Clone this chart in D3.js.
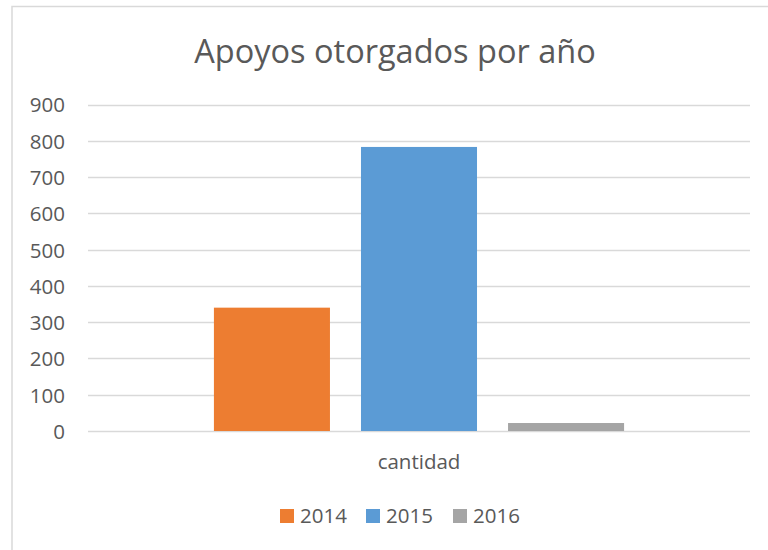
<!DOCTYPE html>
<html><head><meta charset="utf-8">
<script src="https://cdn.jsdelivr.net/npm/d3@7"></script>
<style>body{margin:0;background:#fff}svg{display:block}</style>
</head><body>
<script>
const categories = ["cantidad"];
const seriesNames = ["2014", "2015", "2016"];
const values2014 = [340];
const values2015 = [783];
const values2016 = [22];
const yTicks = [0, 100, 200, 300, 400, 500, 600, 700, 800, 900];
const colors = ["#ED7D31", "#5B9BD5", "#A5A5A5"];
const seriesValues = [values2014, values2015, values2016];

const W = 768, H = 550;
const font = "'Open Sans', sans-serif";
const svg = d3.select("body").append("svg").attr("width", W).attr("height", H);
svg.append("rect").attr("width", W).attr("height", H).attr("fill", "#fff");
svg.append("rect").attr("x", 12).attr("y", 6.5).attr("width", 800).attr("height", 600)
  .attr("fill", "none").attr("stroke", "#d9d9d9").attr("stroke-width", 1.5);

const pLeft = 88, pRight = 750, pTop = 104.5, pBottom = 431;
const y = d3.scaleLinear().domain([0, 900]).range([pBottom, pTop]);
const x0 = d3.scaleBand().domain(categories).range([pLeft, pRight]).paddingInner(0).paddingOuter(0.307);
const x1 = d3.scaleBand().domain(seriesNames).range([0, x0.bandwidth()]).paddingInner(0.211).paddingOuter(0);

// gridlines
svg.append("g").selectAll("line").data(yTicks).join("line")
  .attr("x1", pLeft).attr("x2", pRight)
  .attr("y1", d => Math.round(y(d)) + 0.5).attr("y2", d => Math.round(y(d)) + 0.5)
  .attr("stroke", "#d9d9d9").attr("stroke-width", 1.5);

// y axis labels
const yAxis = d3.axisLeft(y).tickValues(yTicks).tickSize(0).tickPadding(0);
const gy = svg.append("g").attr("transform", `translate(65,0)`).call(yAxis);
gy.select(".domain").remove();
gy.selectAll("text").attr("font-family", font).attr("font-size", 20.5).attr("fill", "#595959").attr("dy", "0.36em");

// bars
const g = svg.append("g");
categories.forEach((c, ci) => {
  seriesNames.forEach((s, si) => {
    const v = seriesValues[si][ci];
    g.append("rect")
      .attr("x", x0(c) + x1(s))
      .attr("y", y(v))
      .attr("width", x1.bandwidth())
      .attr("height", y(0) - y(v))
      .attr("fill", colors[si]);
  });
});

// x axis label
const xAxis = d3.axisBottom(x0).tickSize(0).tickPadding(0);
const gx = svg.append("g").attr("transform", `translate(0,${pBottom})`).call(xAxis);
gx.select(".domain").remove();
gx.selectAll("text").attr("font-family", font).attr("font-size", 20.5).attr("fill", "#595959")
  .attr("dy", null).attr("y", 38);

// title
svg.append("text").attr("x", 395).attr("y", 63).attr("text-anchor", "middle")
  .attr("font-family", font).attr("font-size", 32.5).attr("fill", "#595959")
  .text("Apoyos otorgados por año");

// legend
const legendX = [280, 366, 453];
const lg = svg.append("g");
seriesNames.forEach((s, i) => {
  lg.append("rect").attr("x", legendX[i]).attr("y", 509).attr("width", 14).attr("height", 14).attr("fill", colors[i]);
  lg.append("text").attr("x", legendX[i] + 20).attr("y", 523).attr("font-family", font)
    .attr("font-size", 20.5).attr("fill", "#595959").text(s);
});
</script>
</body></html>
